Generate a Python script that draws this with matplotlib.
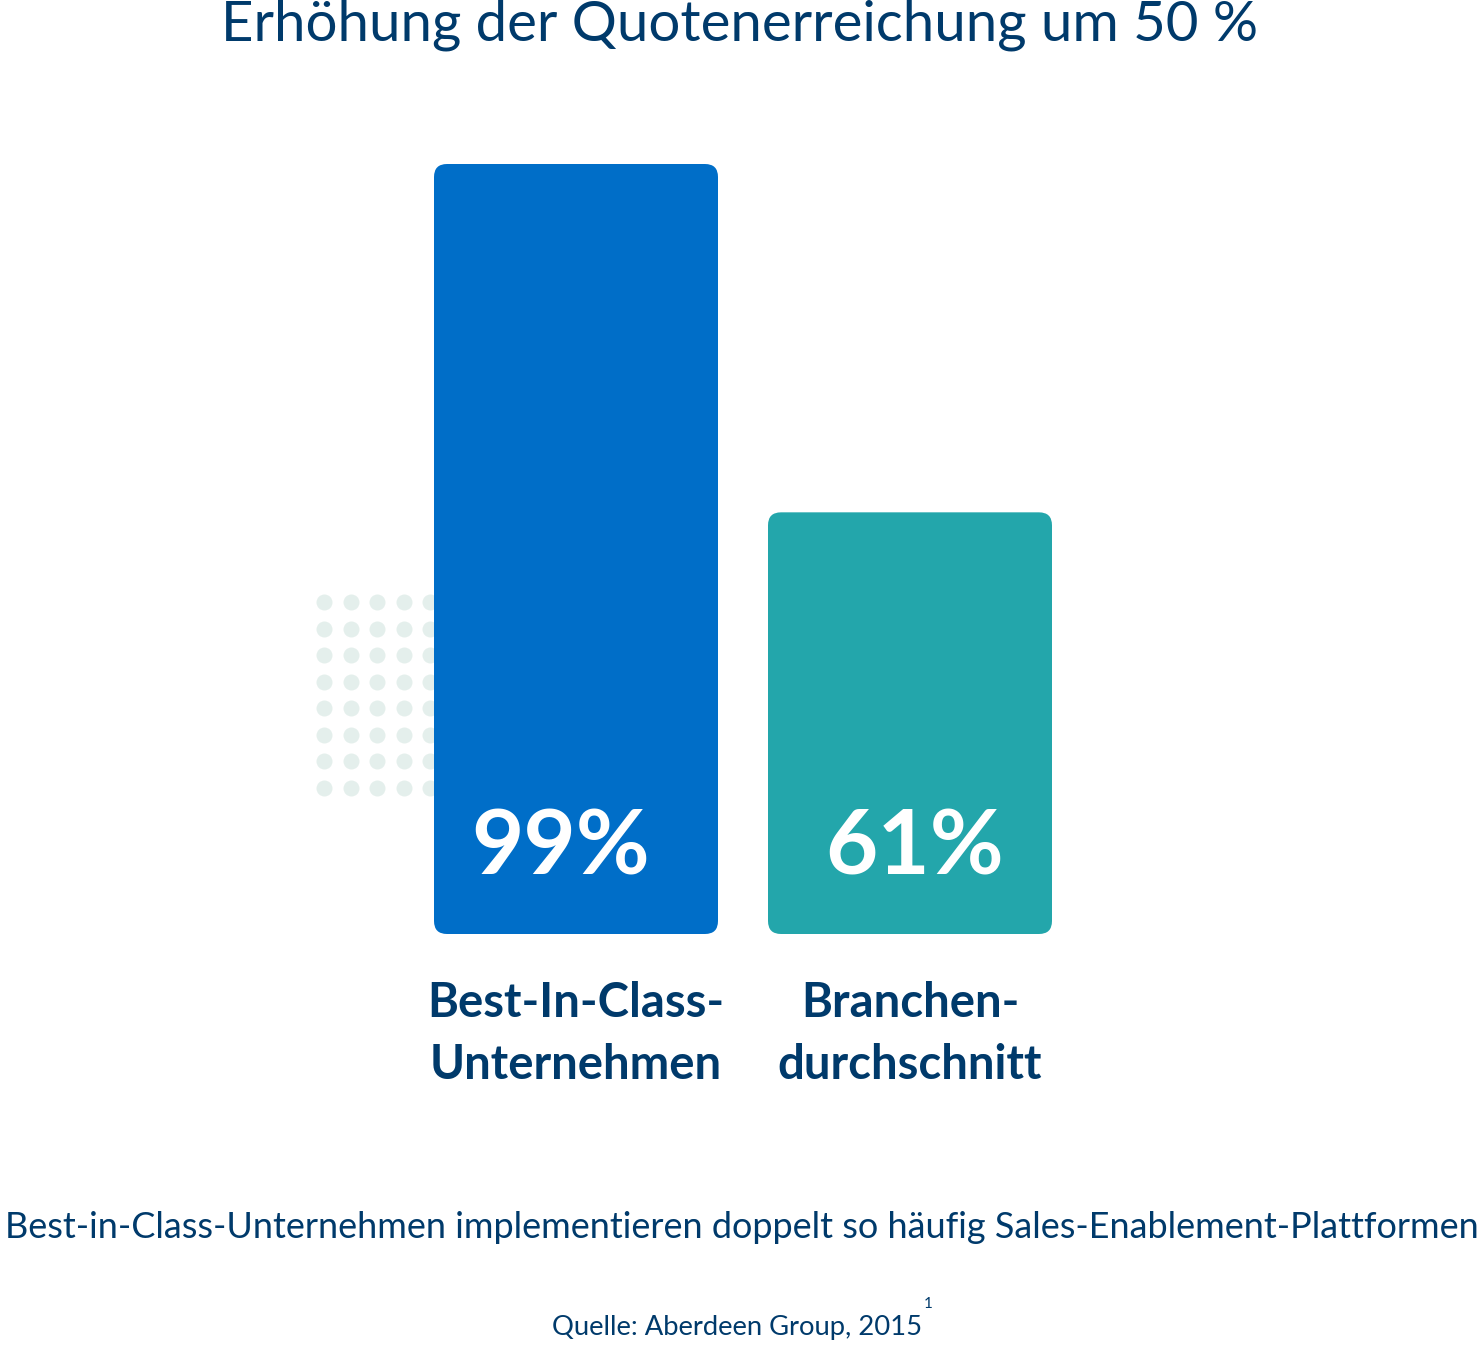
import matplotlib
matplotlib.use("Agg")
import matplotlib.pyplot as plt
from matplotlib.patches import FancyBboxPatch
import numpy as np

categories = ["Best-In-Class-\nUnternehmen", "Branchen-\ndurchschnitt"]
values = [99, 61]
value_labels = ["99%", "61%"]
title = "Erhöhung der Quotenerreichung um 50 %"
subtitle = "Best-in-Class-Unternehmen implementieren doppelt so häufig Sales-Enablement-Plattformen"
source = "Quelle: Aberdeen Group, 2015"
footnote = "1"

axis_floor = 15

BLUE = "#006ec8"
TEAL = "#23a6ab"
NAVY = "#003a6b"
DOT = "#e4efec"

W, H = 1484, 1346
fig = plt.figure(figsize=(W / 100, H / 100), dpi=100)
fig.patch.set_facecolor("white")
renderer = fig.canvas.get_renderer()

# background canvas in pixel coordinates
bg = fig.add_axes([0, 0, 1, 1], zorder=0)
bg.set_xlim(0, W)
bg.set_ylim(H, 0)
bg.axis("off")

# decorative dot grid
dx = np.linspace(324, 430, 5)
dy = np.linspace(602, 788, 8)
gx, gy = np.meshgrid(dx, dy)
bg.scatter(gx.ravel(), gy.ravel(), s=(16 * 0.72) ** 2, color=DOT, linewidths=0)

# main bar axes
bottom_px, top_px = 934, 164
ax = fig.add_axes([0, (H - bottom_px) / H, 1, (bottom_px - top_px) / H], zorder=1)
ax.patch.set_alpha(0)
ax.axis("off")
c0, c1 = 576, 910
unit = c1 - c0
ax.set_xlim(-c0 / unit, (W - c0) / unit)
ax.set_ylim(axis_floor, max(values))

x = np.arange(len(values))
bars = ax.bar(x, np.array(values) - axis_floor, bottom=axis_floor, width=284 / unit,
              color=[BLUE, TEAL])

# replace bars with rounded ones
px_x = unit
px_y = (bottom_px - top_px) / (max(values) - axis_floor)
r_px = 13
for b in bars:
    bx, by = b.get_x(), b.get_y()
    bw, bh = b.get_width(), b.get_height()
    fb = FancyBboxPatch((bx, by), bw, bh,
                        boxstyle=f"round,pad=0,rounding_size={r_px / px_x}",
                        mutation_aspect=px_x / px_y,
                        facecolor=b.get_facecolor(), edgecolor="none")
    b.remove()
    ax.add_patch(fb)

label_shift_px = [-15, 5]
for xi, lab, sh in zip(x, value_labels, label_shift_px):
    ax.text(xi + sh / px_x, axis_floor + (934 - 849) / px_y, lab, ha="center", va="center",
            color="white", fontsize=65, fontweight="bold", family="Lato")

# category labels
for xi, cat in zip(x, categories):
    bg.text(c0 + xi * unit, 1034, cat, ha="center", va="center", color=NAVY,
            fontsize=34, fontweight="bold", family="Lato", linespacing=1.5)


def fit(t, target_w):
    w = t.get_window_extent(renderer).width
    t.set_fontsize(t.get_fontsize() * target_w / w)


t1 = bg.text(740, 25, title, ha="center", va="center", color=NAVY,
             fontsize=41, fontweight="normal", family="Lato")
fit(t1, 1040)
t2 = bg.text(W / 2, 1227, subtitle, ha="center", va="center", color=NAVY,
             fontsize=26, fontweight="normal", family="Lato")
fit(t2, 1470)
t3 = bg.text(737, 1328, source, ha="center", va="center", color=NAVY,
             fontsize=19.7, family="Lato")
fit(t3, 370)
bg.text(928, 1304, footnote, ha="center", va="center", color=NAVY,
        fontsize=11, family="Lato")

fig.savefig("out.png", dpi=100)
